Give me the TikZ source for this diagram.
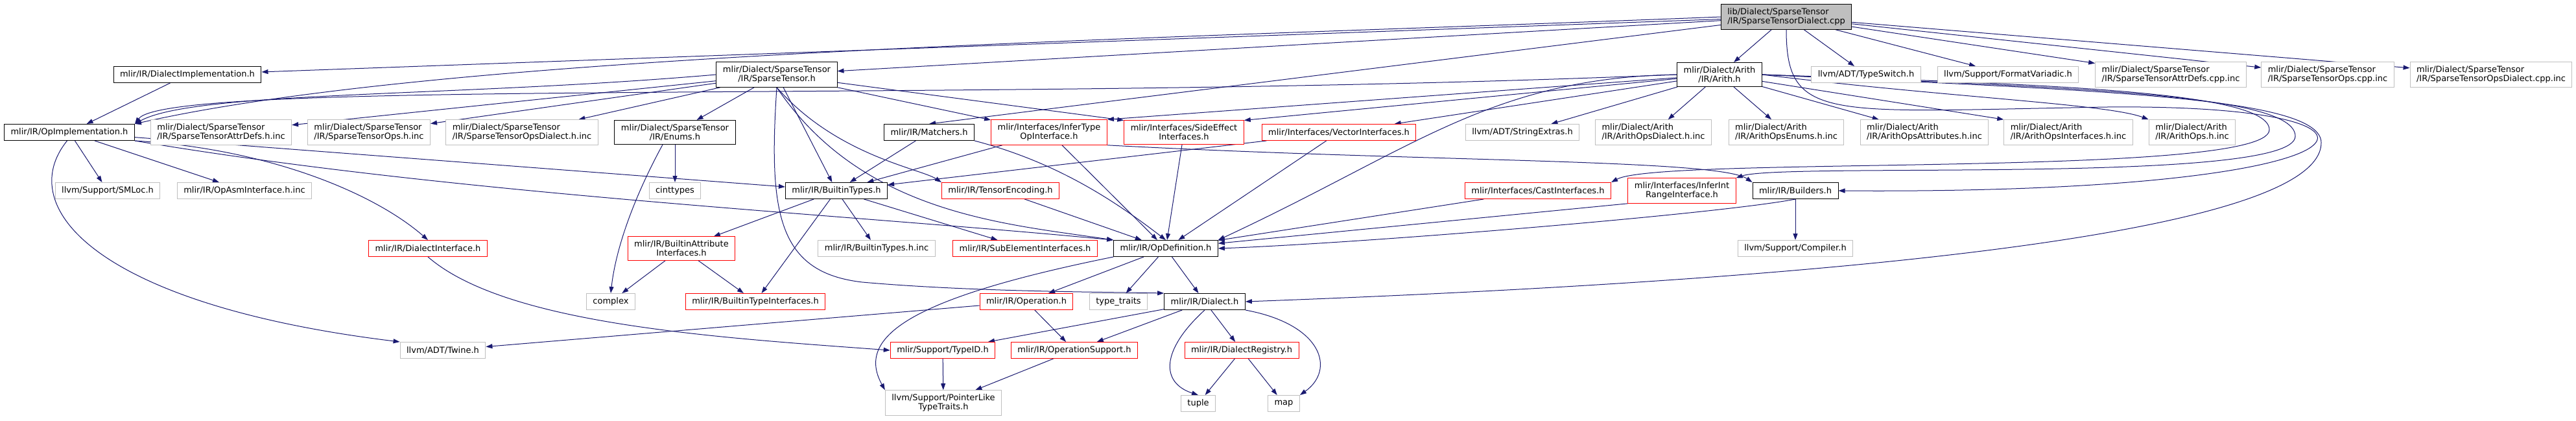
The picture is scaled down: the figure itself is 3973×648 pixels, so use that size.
\documentclass[tikz,border=0pt]{standalone}
\usepackage{fontspec}
\setmainfont{DejaVu Sans}
\usepackage{xcolor}
\usepackage{tikz}
\usetikzlibrary{arrows.meta,backgrounds}
\definecolor{inclblue}{HTML}{191970}
\definecolor{extgray}{HTML}{BFBFBF}
\definecolor{truncred}{HTML}{FF0000}
\definecolor{rootfill}{HTML}{BFBFBF}
\tikzset{
  hdrbox/.style={rectangle, line width=1pt, fill=white, inner xsep=10pt, inner ysep=6pt,
                 minimum height=25pt, align=center, font=\fontsize{13}{14}\selectfont},
  docbox/.style={hdrbox, draw=black},
  redbox/.style={hdrbox, draw=truncred},
  extbox/.style={hdrbox, draw=extgray},
  rootbox/.style={hdrbox, draw=black, fill=rootfill},
  incl/.style={draw=inclblue, line width=1pt, -{Triangle[length=10pt,width=7pt]}}
}
\newcommand{\hdrnode}[5]{
  \node[#1] (#2) at (#3,-#4) {#5};
}

\begin{document}
\begin{tikzpicture}[x=1pt,y=1pt]
\useasboundingbox (0,0) rectangle (3973,-648);

\hdrnode{rootbox,align=left}{root}{2755}{26}{lib/Dialect/SparseTensor\\/IR/SparseTensorDialect.cpp}

\hdrnode{docbox}{dialimpl}{289}{115}{mlir/IR/DialectImplementation.h}
\hdrnode{docbox}{sptensor}{1198}{115}{mlir/Dialect/SparseTensor\\/IR/SparseTensor.h}
\hdrnode{docbox}{arith}{2652}{115}{mlir/Dialect/Arith\\/IR/Arith.h}
\hdrnode{extbox}{typeswitch}{2878}{115}{llvm/ADT/TypeSwitch.h}
\hdrnode{extbox}{fmtvariadic}{3097}{115}{llvm/Support/FormatVariadic.h}
\hdrnode{extbox,align=left}{attrdefscpp}{3348}{115}{mlir/Dialect/SparseTensor\\/IR/SparseTensorAttrDefs.cpp.inc}
\hdrnode{extbox,align=left}{opscpp}{3590}{115}{mlir/Dialect/SparseTensor\\/IR/SparseTensorOps.cpp.inc}
\hdrnode{extbox,align=left}{opsdialectcpp}{3842}{115}{mlir/Dialect/SparseTensor\\/IR/SparseTensorOpsDialect.cpp.inc}

\hdrnode{docbox}{opimpl}{107}{204}{mlir/IR/OpImplementation.h}
\hdrnode{extbox,align=left}{attrdefsh}{341}{204}{mlir/Dialect/SparseTensor\\/IR/SparseTensorAttrDefs.h.inc}
\hdrnode{extbox,align=left}{opsh}{569}{204}{mlir/Dialect/SparseTensor\\/IR/SparseTensorOps.h.inc}
\hdrnode{extbox,align=left}{opsdialecth}{805}{204}{mlir/Dialect/SparseTensor\\/IR/SparseTensorOpsDialect.h.inc}
\hdrnode{docbox}{enums}{1041}{204}{mlir/Dialect/SparseTensor\\/IR/Enums.h}
\hdrnode{docbox}{matchers}{1433}{204}{mlir/IR/Matchers.h}
\hdrnode{redbox}{infertype}{1618}{204}{mlir/Interfaces/InferType\\OpInterface.h}
\hdrnode{redbox}{sideeffect}{1826}{204}{mlir/Interfaces/SideEffect\\Interfaces.h}
\hdrnode{redbox}{vectoriface}{2065}{204}{mlir/Interfaces/VectorInterfaces.h}
\hdrnode{extbox}{strextras}{2348}{204}{llvm/ADT/StringExtras.h}
\hdrnode{extbox,align=left}{arithdialectinc}{2550}{204}{mlir/Dialect/Arith\\/IR/ArithOpsDialect.h.inc}
\hdrnode{extbox,align=left}{arithenumsinc}{2755}{204}{mlir/Dialect/Arith\\/IR/ArithOpsEnums.h.inc}
\hdrnode{extbox,align=left}{arithattrinc}{2968}{204}{mlir/Dialect/Arith\\/IR/ArithOpsAttributes.h.inc}
\hdrnode{extbox,align=left}{arithifaceinc}{3190}{204}{mlir/Dialect/Arith\\/IR/ArithOpsInterfaces.h.inc}
\hdrnode{extbox,align=left}{arithopsinc}{3381}{204}{mlir/Dialect/Arith\\/IR/ArithOps.h.inc}

\hdrnode{extbox}{smloc}{166}{294}{llvm/Support/SMLoc.h}
\hdrnode{extbox}{opasm}{377}{294}{mlir/IR/OpAsmInterface.h.inc}
\hdrnode{extbox}{cinttypes}{1041}{294}{cinttypes}
\hdrnode{docbox}{builtintypes}{1290}{294}{mlir/IR/BuiltinTypes.h}
\hdrnode{redbox}{tensorenc}{1543}{294}{mlir/IR/TensorEncoding.h}
\hdrnode{redbox}{castiface}{2372}{294}{mlir/Interfaces/CastInterfaces.h}
\hdrnode{redbox}{intrange}{2594}{294}{mlir/Interfaces/InferInt\\RangeInterface.h}
\hdrnode{docbox}{builders}{2769}{294}{mlir/IR/Builders.h}

\hdrnode{redbox}{dialectiface}{660}{383}{mlir/IR/DialectInterface.h}
\hdrnode{redbox}{attrifaces}{1051}{383}{mlir/IR/BuiltinAttribute\\Interfaces.h}
\hdrnode{extbox}{builtintypesinc}{1352}{383}{mlir/IR/BuiltinTypes.h.inc}
\hdrnode{redbox}{subelement}{1581}{383}{mlir/IR/SubElementInterfaces.h}
\hdrnode{docbox}{opdef}{1798}{383}{mlir/IR/OpDefinition.h}
\hdrnode{extbox}{compiler}{2769}{383}{llvm/Support/Compiler.h}

\hdrnode{extbox}{complex}{942}{465}{complex}
\hdrnode{redbox}{typeifaces}{1165}{465}{mlir/IR/BuiltinTypeInterfaces.h}
\hdrnode{redbox}{operation}{1583}{465}{mlir/IR/Operation.h}
\hdrnode{extbox}{typetraits}{1725}{465}{type\_traits}
\hdrnode{docbox}{dialect}{1858}{465}{mlir/IR/Dialect.h}

\hdrnode{extbox}{twine}{683}{540}{llvm/ADT/Twine.h}
\hdrnode{redbox}{typeid}{1454}{540}{mlir/Support/TypeID.h}
\hdrnode{redbox}{opsupport}{1657}{540}{mlir/IR/OperationSupport.h}
\hdrnode{redbox}{registry}{1915}{540}{mlir/IR/DialectRegistry.h}

\hdrnode{extbox}{pointerlike}{1455}{621}{llvm/Support/PointerLike\\TypeTraits.h}
\hdrnode{extbox}{tuple}{1848}{622}{tuple}
\hdrnode{extbox}{map}{1980}{622}{map}

\begin{scope}[on background layer]
\draw[incl] (root) -- (dialimpl);
\draw[incl] (root.west) .. controls (1800,-60) and (700,-80) .. (opimpl.north east);
\draw[incl] (root) -- (sptensor);
\draw[incl] (root) -- (matchers.north);
\draw[incl] (root) -- (arith);
\draw[incl] (root) -- (typeswitch);
\draw[incl] (root) -- (fmtvariadic);
\draw[incl] (root) -- (attrdefscpp);
\draw[incl] (root) -- (opscpp);
\draw[incl] (root) -- (opsdialectcpp);
\draw[incl] (root.south) .. controls (2755,-190) and (2820,-172) .. (3250,-165) .. controls (3760,-160) and (3700,-300) .. (builders.east);

\draw[incl] (dialimpl) -- (opimpl);

\draw[incl] (sptensor.west) .. controls (700,-150) and (300,-140) .. (opimpl.north east);
\draw[incl] (sptensor) -- (attrdefsh);
\draw[incl] (sptensor) -- (opsh);
\draw[incl] (sptensor) -- (opsdialecth);
\draw[incl] (sptensor) -- (enums);
\draw[incl] (sptensor) -- (builtintypes);
\draw[incl] (sptensor.south) .. controls (1290,-240) and (1420,-260) .. (tensorenc.north west);
\draw[incl] (sptensor) -- (infertype);
\draw[incl] (sptensor) -- (sideeffect.north west);
\draw[incl] (sptensor.south) .. controls (1330,-330) and (1550,-345) .. (opdef.north west);
\draw[incl] (sptensor.south) .. controls (1185,-330) and (1200,-420) .. (1330,-435) .. controls (1500,-450) and (1700,-450) .. (dialect.north west);

\draw[incl] (arith.west) .. controls (1500,-160) and (260,-120) .. (opimpl.north east);
\draw[incl] (arith) -- (infertype.north east);
\draw[incl] (arith) -- (sideeffect.north east);
\draw[incl] (arith) -- (vectoriface);
\draw[incl] (arith) -- (strextras);
\draw[incl] (arith) -- (arithdialectinc);
\draw[incl] (arith) -- (arithenumsinc);
\draw[incl] (arith) -- (arithattrinc);
\draw[incl] (arith) -- (arithifaceinc.north west);
\draw[incl] (arith.east) .. controls (3000,-150) and (3250,-160) .. (arithopsinc.north west);
\draw[incl] (arith.west) .. controls (2300,-120) and (2180,-230) .. (opdef.north east);
\draw[incl] (arith.east) .. controls (3150,-130) and (3500,-140) .. (3500,-200) .. controls (3500,-275) and (2560,-240) .. (castiface.north east);
\draw[incl] (arith.east) .. controls (3200,-135) and (3540,-145) .. (3540,-210) .. controls (3540,-285) and (2750,-250) .. (intrange.north east);
\draw[incl] (arith.east) .. controls (3250,-140) and (3580,-150) .. (3580,-220) .. controls (3580,-380) and (2600,-440) .. (dialect.east);

\draw[incl] (opimpl) -- (smloc);
\draw[incl] (opimpl) -- (opasm);
\draw[incl] (opimpl.south east) .. controls (420,-230) and (580,-300) .. (dialectiface.north);
\draw[incl] (opimpl.255) .. controls (20,-320) and (150,-470) .. (twine.north west);
\draw[incl] (opimpl) -- (builtintypes);
\draw[incl] (opimpl.south east) .. controls (700,-300) and (1300,-330) .. (opdef.north west);

\draw[incl] (enums) -- (cinttypes);
\draw[incl] ([xshift=-19pt]enums.south) .. controls (980,-300) and (950,-380) .. (complex.north);
\draw[incl] (matchers) -- (builtintypes);
\draw[incl] (matchers.south east) .. controls (1630,-250) and (1720,-310) .. (opdef.north);
\draw[incl] (infertype) -- (builtintypes);
\draw[incl] (infertype) -- (opdef);
\draw[incl] (infertype.south east) .. controls (2200,-250) and (2650,-245) .. (builders.north west);
\draw[incl] (sideeffect) -- (opdef);
\draw[incl] (vectoriface) -- (builtintypes);
\draw[incl] (vectoriface) -- (opdef);
\draw[incl] (tensorenc) -- (opdef);
\draw[incl] (castiface) -- (opdef);
\draw[incl] (intrange.south west) -- (opdef);
\draw[incl] (builders.south) .. controls (2650,-330) and (2100,-375) .. (opdef.east);
\draw[incl] (builders) -- (compiler);

\draw[incl] (builtintypes) -- (attrifaces);
\draw[incl] (builtintypes) -- (typeifaces);
\draw[incl] (builtintypes) -- (builtintypesinc);
\draw[incl] (builtintypes) -- (subelement);
\draw[incl] (attrifaces) -- (complex);
\draw[incl] (attrifaces) -- (typeifaces);
\draw[incl] (dialectiface.south) .. controls (780,-500) and (1100,-520) .. (typeid.west);

\draw[incl] (opdef) -- (operation);
\draw[incl] (opdef) -- (typetraits);
\draw[incl] (opdef) -- (dialect);
\draw[incl] (opdef.south west) .. controls (1400,-460) and (1320,-520) .. (pointerlike.north west);
\draw[incl] (operation) -- (opsupport);
\draw[incl] (operation) -- (twine);
\draw[incl] (dialect) -- (typeid);
\draw[incl] (dialect) -- (opsupport);
\draw[incl] (dialect) -- (registry);
\draw[incl] (dialect.south) .. controls (1790,-540) and (1790,-590) .. (tuple.north);
\draw[incl] (dialect.south east) .. controls (2040,-500) and (2060,-570) .. (map.north east);
\draw[incl] (registry) -- (tuple);
\draw[incl] (registry) -- (map);
\draw[incl] (typeid) -- (pointerlike);
\draw[incl] (opsupport) -- (pointerlike);
\end{scope}
\end{tikzpicture}
\end{document}
